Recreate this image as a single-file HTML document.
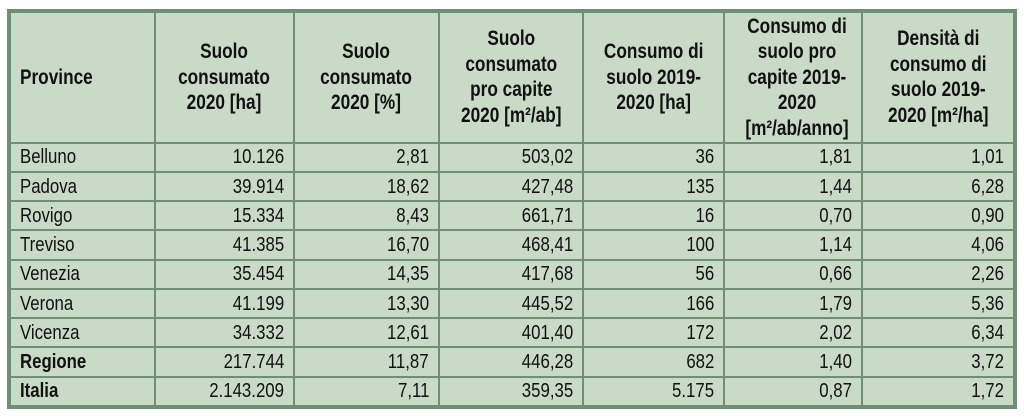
<!DOCTYPE html>
<html><head><meta charset="utf-8"><style>
html,body{margin:0;padding:0;background:#fff;width:1024px;height:419px;overflow:hidden}
table{position:absolute;left:7px;top:9px;width:1006px;height:400px;border-collapse:collapse;table-layout:fixed;background:#c9dac7;border:4px solid #6e8f76;font-family:"Liberation Sans",sans-serif;font-size:20px;color:#111}
td,th{border:2.5px solid #6e8f76;padding:0 9px;line-height:24.5px;white-space:nowrap}
th{font-weight:bold;text-align:center;height:126px;font-size:21px;line-height:25.5px}
th span{display:inline-block;transform:scaleX(0.82);transform-origin:center}
th.l,td.l{text-align:left}
th.l span,td.l span{transform-origin:left}
td{text-align:right;height:27px;line-height:24px}
td span{display:inline-block;transform:scaleX(0.84);transform-origin:right}
tr.b td.l{font-weight:bold}
</style></head><body>
<table>
<colgroup><col style="width:146px"><col style="width:139px"><col style="width:145px"><col style="width:144px"><col style="width:141px"><col style="width:138px"><col style="width:153px"></colgroup>
<tr><th class="l"><span>Province</span></th><th><span>Suolo<br>consumato<br>2020 [ha]</span></th><th><span>Suolo<br>consumato<br>2020 [%]</span></th><th><span>Suolo<br>consumato<br>pro capite<br>2020 [m²/ab]</span></th><th><span>Consumo di<br>suolo 2019-<br>2020 [ha]</span></th><th><span>Consumo di<br>suolo pro<br>capite 2019-<br>2020<br>[m²/ab/anno]</span></th><th><span>Densità di<br>consumo di<br>suolo 2019-<br>2020 [m²/ha]</span></th></tr>
<tr><td class="l"><span>Belluno</span></td><td><span>10.126</span></td><td><span>2,81</span></td><td><span>503,02</span></td><td><span>36</span></td><td><span>1,81</span></td><td><span>1,01</span></td></tr>
<tr><td class="l"><span>Padova</span></td><td><span>39.914</span></td><td><span>18,62</span></td><td><span>427,48</span></td><td><span>135</span></td><td><span>1,44</span></td><td><span>6,28</span></td></tr>
<tr><td class="l"><span>Rovigo</span></td><td><span>15.334</span></td><td><span>8,43</span></td><td><span>661,71</span></td><td><span>16</span></td><td><span>0,70</span></td><td><span>0,90</span></td></tr>
<tr><td class="l"><span>Treviso</span></td><td><span>41.385</span></td><td><span>16,70</span></td><td><span>468,41</span></td><td><span>100</span></td><td><span>1,14</span></td><td><span>4,06</span></td></tr>
<tr><td class="l"><span>Venezia</span></td><td><span>35.454</span></td><td><span>14,35</span></td><td><span>417,68</span></td><td><span>56</span></td><td><span>0,66</span></td><td><span>2,26</span></td></tr>
<tr><td class="l"><span>Verona</span></td><td><span>41.199</span></td><td><span>13,30</span></td><td><span>445,52</span></td><td><span>166</span></td><td><span>1,79</span></td><td><span>5,36</span></td></tr>
<tr><td class="l"><span>Vicenza</span></td><td><span>34.332</span></td><td><span>12,61</span></td><td><span>401,40</span></td><td><span>172</span></td><td><span>2,02</span></td><td><span>6,34</span></td></tr>
<tr class="b"><td class="l"><span>Regione</span></td><td><span>217.744</span></td><td><span>11,87</span></td><td><span>446,28</span></td><td><span>682</span></td><td><span>1,40</span></td><td><span>3,72</span></td></tr>
<tr class="b"><td class="l"><span>Italia</span></td><td><span>2.143.209</span></td><td><span>7,11</span></td><td><span>359,35</span></td><td><span>5.175</span></td><td><span>0,87</span></td><td><span>1,72</span></td></tr>
</table>
</body></html>
